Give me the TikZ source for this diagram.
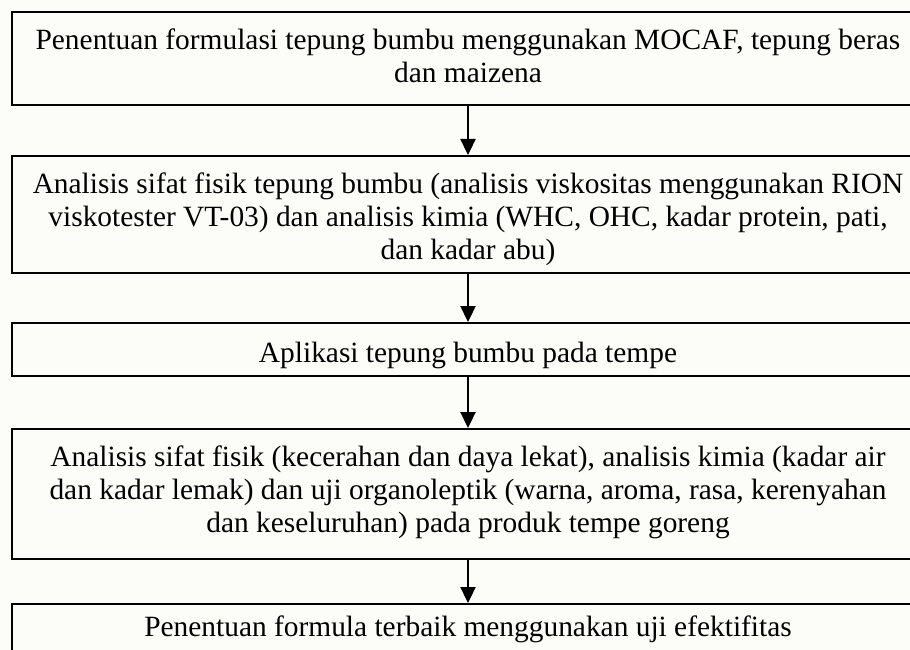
\documentclass[tikz,border=0pt]{standalone}
\usepackage{fontspec}
\setmainfont{Liberation Serif}
\usetikzlibrary{arrows.meta}
\definecolor{bgpaper}{rgb}{0.988,0.990,0.975}
\tikzset{
  flowbox/.style={draw=black, line width=2.2pt, fill=bgpaper, rectangle,
    minimum width=912pt, inner xsep=0pt, inner ysep=0pt, anchor=north,
    font=\fontsize{29.4}{33}\selectfont},
  flowarrow/.style={line width=2.3pt, -{Triangle[length=16pt,width=15pt]}}
}
\newcommand{\boxlines}[1]{\begin{tabular}[t]{@{}c@{}}#1\end{tabular}}
\begin{document}
\begin{tikzpicture}[x=1pt,y=-1pt]
\useasboundingbox (0,0) rectangle (910,650);
\fill[bgpaper] (0,0) rectangle (910,650);
\clip (0,0) rectangle (910,650);
\node[flowbox, text height=37pt, text depth=56pt] (b1) at (468,11)
  {\boxlines{Penentuan formulasi tepung bumbu menggunakan MOCAF, tepung beras\\dan maizena}};
\node[flowbox, text height=37pt, text depth=80pt] (b2) at (468,155)
  {\boxlines{Analisis sifat fisik tepung bumbu (analisis viskositas menggunakan RION\\viskotester VT-03) dan analisis kimia (WHC, OHC, kadar protein, pati,\\dan kadar abu)}};
\node[flowbox, text height=39pt, text depth=14pt] (b3) at (468,322)
  {\boxlines{Aplikasi tepung bumbu pada tempe}};
\node[flowbox, text height=37pt, text depth=93pt] (b4) at (468,428)
  {\boxlines{Analisis sifat fisik (kecerahan dan daya lekat), analisis kimia (kadar air\\dan kadar lemak) dan uji organoleptik (warna, aroma, rasa, kerenyahan\\dan keseluruhan) pada produk tempe goreng}};
\node[flowbox, text height=32pt, text depth=22pt] (b5) at (468,603)
  {\boxlines{Penentuan formula terbaik menggunakan uji efektifitas}};
\draw[flowarrow] (b1.south) -- (b2.north);
\draw[flowarrow] (b2.south) -- (b3.north);
\draw[flowarrow] (b3.south) -- (b4.north);
\draw[flowarrow] (b4.south) -- (b5.north);
\end{tikzpicture}
\end{document}
